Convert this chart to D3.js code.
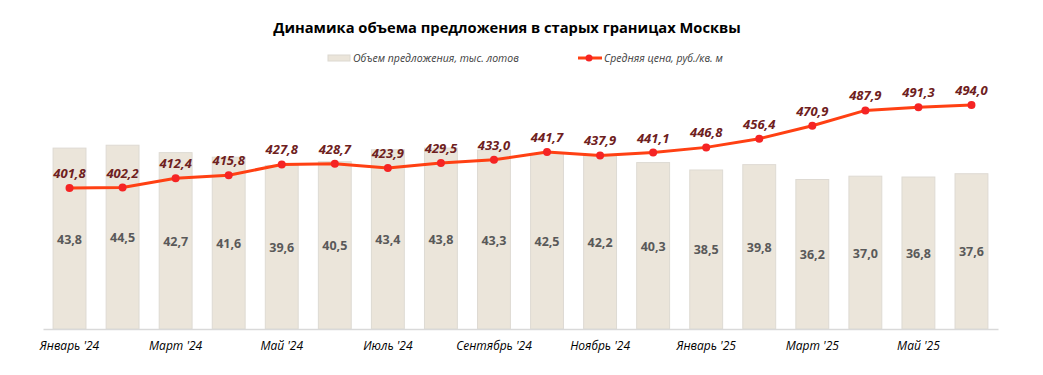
<!DOCTYPE html>
<html>
<head>
<meta charset="utf-8">
<script src="https://cdn.jsdelivr.net/npm/d3@7"></script>
<style>
  body { margin: 0; background: #fff; }
  svg { display: block; font-family: "Open Sans", "Noto Sans", sans-serif; }
</style>
</head>
<body>
<div id="chart"></div>
<script>
const months = ["Январь '24", "Февраль '24", "Март '24", "Апрель '24", "Май '24", "Июнь '24",
  "Июль '24", "Август '24", "Сентябрь '24", "Октябрь '24", "Ноябрь '24", "Декабрь '24",
  "Январь '25", "Февраль '25", "Март '25", "Апрель '25", "Май '25", "Июнь '25"];
const volume = [43.8, 44.5, 42.7, 41.6, 39.6, 40.5, 43.4, 43.8, 43.3, 42.5, 42.2, 40.3,
  38.5, 39.8, 36.2, 37.0, 36.8, 37.6];
const price = [401.8, 402.2, 412.4, 415.8, 427.8, 428.7, 423.9, 429.5, 433.0, 441.7, 437.9, 441.1,
  446.8, 456.4, 470.9, 487.9, 491.3, 494.0];

const fmt = v => v.toFixed(1).replace(".", ",");

const width = 1043, height = 375;
const margin = { left: 43, right: 45, top: 99, bottom: 46 };
const baseY = height - margin.bottom;

const svg = d3.select("#chart").append("svg")
  .attr("width", width)
  .attr("height", height);

const x = d3.scaleBand()
  .domain(months)
  .range([margin.left, width - margin.right])
  .paddingInner(0.38)
  .paddingOuter(0.19);

const yBar = d3.scaleLinear().domain([0, 50]).range([baseY, baseY - 206.5]);
const yLine = d3.scaleLinear().domain([245, 500]).range([baseY, baseY - 229.5]);

// title
svg.append("text")
  .attr("x", 507).attr("y", 33)
  .attr("text-anchor", "middle")
  .attr("font-size", 14.7).attr("font-weight", "bold")
  .attr("fill", "#000")
  .text("Динамика объема предложения в старых границах Москвы");

// legend
const lg = svg.append("g").attr("font-size", 10.5).attr("font-style", "italic").attr("fill", "#404040");
lg.append("rect").attr("x", 328).attr("y", 55).attr("width", 22).attr("height", 6)
  .attr("fill", "#ebe5da").attr("stroke", "#dcd8d0");
lg.append("text").attr("x", 353).attr("y", 62).text("Объем предложения, тыс. лотов");
lg.append("line").attr("x1", 578).attr("x2", 602).attr("y1", 58).attr("y2", 58)
  .attr("stroke", "#ff4013").attr("stroke-width", 3);
lg.append("circle").attr("cx", 589).attr("cy", 58).attr("r", 3.5).attr("fill", "#f52424");
lg.append("text").attr("x", 604).attr("y", 62).text("Средняя цена, руб./кв. м");

// bars
svg.selectAll(".bar")
  .data(volume)
  .enter().append("rect")
  .attr("class", "bar")
  .attr("x", (d, i) => x(months[i]))
  .attr("width", x.bandwidth())
  .attr("y", d => yBar(d))
  .attr("height", d => baseY - yBar(d))
  .attr("fill", "#ebe5da")
  .attr("stroke", "#dedad3")
  .attr("stroke-width", 1);

svg.selectAll(".bar-label")
  .data(volume)
  .enter().append("text")
  .attr("class", "bar-label")
  .attr("x", (d, i) => x(months[i]) + x.bandwidth() / 2)
  .attr("y", d => (yBar(d) + baseY) / 2 + 5)
  .attr("text-anchor", "middle")
  .attr("font-size", 12.5).attr("font-weight", "bold")
  .attr("fill", "#595959")
  .text(d => fmt(d));

// x axis
const xAxis = svg.append("g")
  .attr("transform", "translate(0," + baseY + ")")
  .call(d3.axisBottom(x)
    .tickSize(0)
    .tickPadding(12)
    .tickFormat((d, i) => i % 2 === 0 ? d : ""));
xAxis.select(".domain").attr("stroke", "#d9d9d9").attr("stroke-width", 1.5);
xAxis.selectAll("text")
  .attr("font-family", "\"Open Sans\", sans-serif")
  .attr("font-size", 12).attr("font-style", "italic")
  .attr("fill", "#000");

// line
const line = d3.line()
  .x((d, i) => x(months[i]) + x.bandwidth() / 2)
  .y(d => yLine(d));

svg.append("path")
  .datum(price)
  .attr("d", line)
  .attr("fill", "none")
  .attr("stroke", "#ff4013")
  .attr("stroke-width", 3)
  .attr("stroke-linejoin", "round");

svg.selectAll(".dot")
  .data(price)
  .enter().append("circle")
  .attr("class", "dot")
  .attr("cx", (d, i) => x(months[i]) + x.bandwidth() / 2)
  .attr("cy", d => yLine(d))
  .attr("r", 4)
  .attr("fill", "#f52424");

svg.selectAll(".price-label")
  .data(price)
  .enter().append("text")
  .attr("class", "price-label")
  .attr("x", (d, i) => x(months[i]) + x.bandwidth() / 2)
  .attr("y", d => yLine(d) - 10)
  .attr("text-anchor", "middle")
  .attr("font-size", 13).attr("font-weight", "bold").attr("font-style", "italic")
  .attr("fill", "#6e2020")
  .text(d => fmt(d));
</script>
</body>
</html>
